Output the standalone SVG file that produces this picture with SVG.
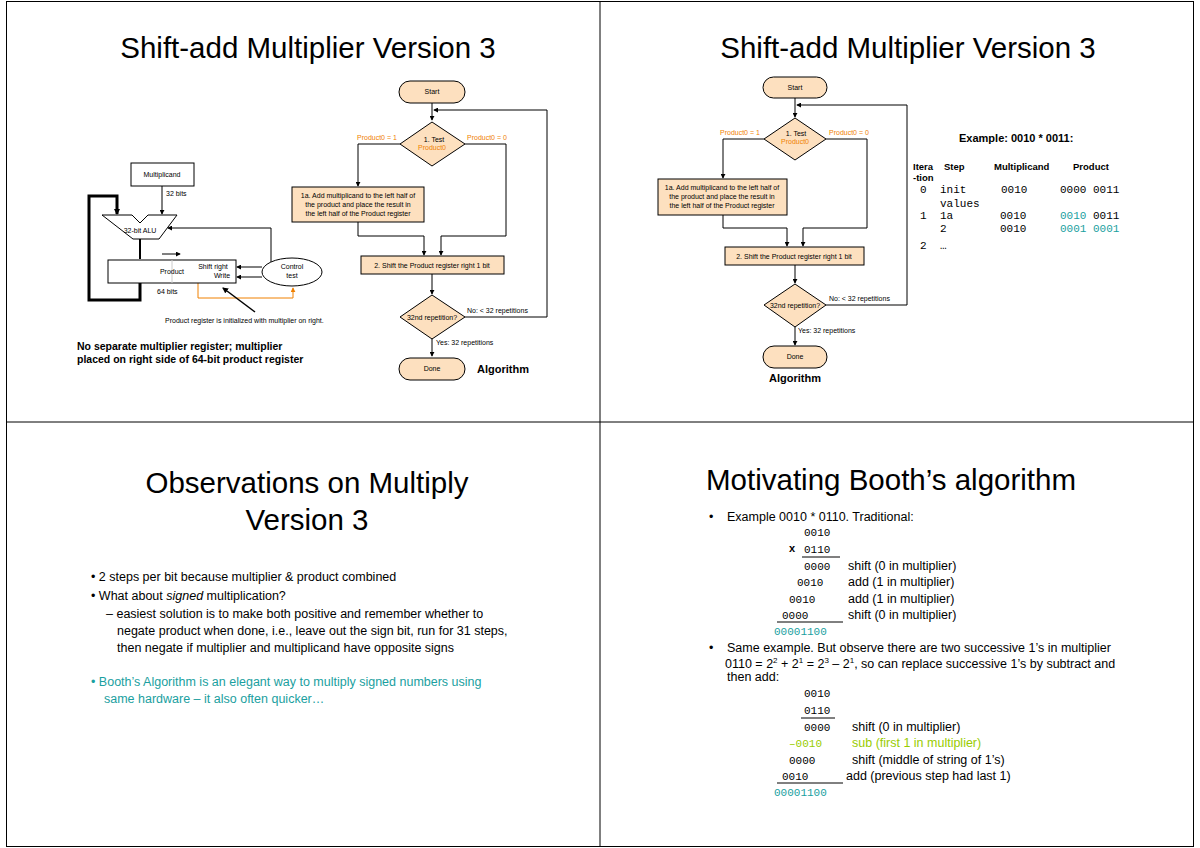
<svg xmlns="http://www.w3.org/2000/svg" width="1200" height="848" viewBox="0 0 1200 848">
<defs>
<marker id="ah" viewBox="0 0 6 6" refX="5" refY="3" markerWidth="5" markerHeight="5" orient="auto"><path d="M0,0L6,3L0,6z" fill="#000"/></marker>
<marker id="ahu" viewBox="0 0 6 6" refX="5" refY="3" markerWidth="6" markerHeight="6" markerUnits="userSpaceOnUse" orient="auto"><path d="M0,0L6,3L0,6z" fill="#000"/></marker>
<marker id="ao" viewBox="0 0 6 6" refX="5" refY="3" markerWidth="5" markerHeight="5" orient="auto"><path d="M0,0L6,3L0,6z" fill="#f08000"/></marker>
</defs>
<style>
text{font-family:"Liberation Sans",Arial,sans-serif;fill:#000}
.t{font-size:29.5px}
.s{font-size:7px}
.sc{font-size:7px;text-anchor:middle}
.o{fill:#f08000}
.f{fill:#fde0bf;stroke:#000;stroke-width:1}
.b{font-weight:bold}
.m{font-family:"Liberation Mono","Courier New",monospace;font-size:11px}
.tl{fill:#1aa0a0}
.g{fill:#99cc00}
.n{font-size:12.5px}
.c{fill:none;stroke:#000;stroke-width:1}
</style>
<rect x="6.5" y="1.5" width="1187" height="845" fill="#fff" stroke="#000"/>
<line x1="600" y1="1.5" x2="600" y2="846.5" stroke="#000"/>
<line x1="6.5" y1="422" x2="1193.5" y2="422" stroke="#000"/>

<text class="t" x="308" y="58" text-anchor="middle">Shift-add Multiplier Version 3</text>
<text class="t" x="908" y="58" text-anchor="middle">Shift-add Multiplier Version 3</text>
<text class="t" x="307" y="493" text-anchor="middle">Observations on Multiply</text>
<text class="t" x="307" y="530" text-anchor="middle">Version 3</text>
<text class="t" x="706" y="490">Motivating Booth’s algorithm</text>

<g id="connectors">
<path class="c" d="M432,103V120" marker-end="url(#ah)"/>
<path class="c" d="M465,317H547V110H434" marker-end="url(#ah)"/>
<path class="c" d="M400,144H358V186" marker-end="url(#ah)"/>
<path class="c" d="M465,144H506V236H441V255" marker-end="url(#ah)"/>
<path class="c" d="M358,222V236H424V255" marker-end="url(#ah)"/>
<path class="c" d="M432,274V294" marker-end="url(#ah)"/>
<path class="c" d="M432,338V356" marker-end="url(#ah)"/>
<path class="c" d="M162,186V214" marker-end="url(#ah)"/>
<path d="M140,283V300H89V196H117V214" fill="none" stroke="#000" stroke-width="3" marker-end="url(#ahu)"/>
<path d="M140,239V259" fill="none" stroke="#000" stroke-width="2"/>
<path class="c" d="M271,262V228H168" marker-end="url(#ah)"/>
<path class="c" d="M262,267H237" marker-end="url(#ah)"/>
<path class="c" d="M262,277H237" marker-end="url(#ah)"/>
<path d="M198,283V298H293V288" fill="none" stroke="#f08000" stroke-width="1" marker-end="url(#ao)"/>
<path d="M255,312L223,288" fill="none" stroke="#000" stroke-width="1.5" marker-end="url(#ahu)"/>
<path class="c" d="M162,254H180" marker-end="url(#ah)"/>

<path class="c" d="M795,98V117" marker-end="url(#ah)"/>
<path class="c" d="M826,305H907V105H797" marker-end="url(#ah)"/>
<path class="c" d="M764,139H723V178" marker-end="url(#ah)"/>
<path class="c" d="M826,139H867V228H803V246" marker-end="url(#ah)"/>
<path class="c" d="M723,215V228H787V246" marker-end="url(#ah)"/>
<path class="c" d="M795,265V283" marker-end="url(#ah)"/>
<path class="c" d="M795,327V345" marker-end="url(#ah)"/>
</g>

<g id="start1"><rect class="f" x="399" y="81" width="66" height="22" rx="11"/><text class="sc" x="432" y="94">Start</text></g>
<g id="test1"><path class="f" d="M432,122L465,144L432,166L400,144z"/><text class="sc" x="434" y="142">1. Test</text><text class="sc o" x="432" y="150">Product0</text>
<text class="s o" x="357" y="140">Product0 = 1</text><text class="s o" x="467" y="140">Product0 = 0</text></g>
<g id="step1a"><rect class="f" x="292" y="187" width="132" height="35"/><text class="sc" x="358" y="198">1a. Add multiplicand to the left half of</text><text class="sc" x="358" y="207">the product and place the result in</text><text class="sc" x="358" y="216">the left half of the Product register</text></g>
<g id="step2"><rect class="f" x="361" y="256" width="143" height="18"/><text class="sc" x="432" y="268">2. Shift the Product register right 1 bit</text></g>
<g id="rep1"><path class="f" d="M432,295L465,317L432,339L400,317z"/><text class="sc" x="432" y="320">32nd repetition?</text>
<text class="s" x="467" y="313">No: &lt; 32 repetitions</text><text class="s" x="436" y="345">Yes: 32 repetitions</text></g>
<g id="done1"><rect class="f" x="399" y="358" width="66" height="22" rx="11"/><text class="sc" x="432" y="371">Done</text></g>
<text class="b" x="477" y="373" font-size="11">Algorithm</text>

<g id="multiplicand"><rect x="131" y="163" width="63" height="23" fill="#fff" stroke="#000"/><text class="sc" x="162" y="177">Multiplicand</text><text class="s" x="166" y="196">32 bits</text></g>
<g id="alu"><path d="M102,215H132L140,223L148,215H177L159,239H133z" fill="#fff" stroke="#000"/><text class="sc" x="140" y="233">32-bit ALU</text></g>
<g id="product"><rect x="108" y="260" width="128" height="23" fill="#fff" stroke="#000"/><line x1="172" y1="260" x2="172" y2="283" stroke="#ccc"/><text class="sc" x="172" y="274">Product</text><text class="sc" x="213" y="269">Shift right</text><text class="sc" x="222" y="278">Write</text><text class="s" x="157" y="294">64 bits</text></g>
<g id="control"><ellipse cx="292" cy="272" rx="30" ry="14" fill="#fff" stroke="#000"/><text class="sc" x="292" y="269">Control</text><text class="sc" x="292" y="278">test</text></g>
<text class="s" x="165" y="323">Product register is initialized with multiplier on right.</text>
<text class="b" x="77" y="350" font-size="10.5">No separate multiplier register; multiplier</text>
<text class="b" x="77" y="363" font-size="10.5">placed on right side of 64-bit product register</text>

<g id="start2"><rect class="f" x="763" y="77" width="64" height="21" rx="10.5"/><text class="sc" x="795" y="90">Start</text></g>
<g id="test2"><path class="f" d="M795,118L826,139L795,160L764,139z"/><text class="sc" x="796" y="136">1. Test</text><text class="sc o" x="795" y="144">Product0</text>
<text class="s o" x="720" y="135">Product0 = 1</text><text class="s o" x="829" y="135">Product0 = 0</text></g>
<g id="step1a2"><rect class="f" x="658" y="179" width="129" height="36"/><text class="sc" x="722" y="190">1a. Add multiplicand to the left half of</text><text class="sc" x="722" y="199">the product and place the result in</text><text class="sc" x="722" y="208">the left half of the Product register</text></g>
<g id="step22"><rect class="f" x="725" y="247" width="139" height="18"/><text class="sc" x="794" y="259">2. Shift the Product register right 1 bit</text></g>
<g id="rep2"><path class="f" d="M795,284L826,305L795,327L764,305z"/><text class="sc" x="795" y="308">32nd repetition?</text>
<text class="s" x="829" y="301">No: &lt; 32 repetitions</text><text class="s" x="798" y="333">Yes: 32 repetitions</text></g>
<g id="done2"><rect class="f" x="763" y="346" width="64" height="22" rx="11"/><text class="sc" x="795" y="359">Done</text></g>
<text class="b" x="795" y="382" font-size="11" text-anchor="middle">Algorithm</text>

<g id="table">
<text class="b" x="959" y="142" font-size="11">Example: 0010 * 0011:</text>
<text class="b" x="913" y="170" font-size="9.5">Itera</text><text class="b" x="913" y="181" font-size="9.5">-tion</text>
<text class="b" x="944" y="170" font-size="9.5">Step</text><text class="b" x="994" y="170" font-size="9.5">Multiplicand</text><text class="b" x="1073" y="170" font-size="9.5">Product</text>
<text class="m" x="920" y="193" font-size="10">0</text><text class="m" x="940" y="193" font-size="10">init</text><text class="m" x="1001" y="193" font-size="10">0010</text><text class="m" x="1060" y="193" font-size="10">0000 0011</text>
<text class="m" x="940" y="207" font-size="10">values</text>
<text class="m" x="920" y="219" font-size="10">1</text><text class="m" x="940" y="219" font-size="10">1a</text><text class="m" x="1000" y="219" font-size="10">0010</text><text class="m tl" x="1060" y="219" font-size="10">0010</text><text class="m" x="1093" y="219" font-size="10">0011</text>
<text class="m" x="940" y="232" font-size="10">2</text><text class="m" x="1000" y="232" font-size="10">0010</text><text class="m tl" x="1060" y="232" font-size="10">0001 0001</text>
<text class="m" x="920" y="249" font-size="10">2</text><text class="m" x="940" y="249" font-size="10">…</text>
</g>

<g id="obs">
<text class="n" x="91" y="581">•  2 steps per bit because multiplier &amp; product combined</text>
<text class="n" x="91" y="600">•  What about <tspan font-style="italic">signed</tspan> multiplication?</text>
<text class="n" x="106" y="618">– easiest solution is to make both positive and remember whether to</text>
<text class="n" x="117" y="635">negate product when done, i.e., leave out the sign bit, run for 31 steps,</text>
<text class="n" x="117" y="652">then negate if multiplier and multiplicand have opposite signs</text>
<text class="n tl" x="91" y="686">•  Booth’s Algorithm is an elegant way to multiply signed numbers using</text>
<text class="n tl" x="104" y="703">same hardware – it also often quicker…</text>
</g>

<g id="booth">
<text class="n" x="709" y="521">•</text><text class="n" x="727" y="521">Example 0010 * 0110. Traditional:</text>
<text class="m" x="804" y="536">0010</text>
<text class="b" x="789" y="552" font-size="11">x</text><text class="m" x="804" y="553">0110</text>
<line x1="802" y1="557" x2="840" y2="557" stroke="#000"/>
<text class="m" x="804" y="570">0000</text><text class="n" x="848" y="570">shift (0 in multiplier)</text>
<text class="m" x="797" y="586">0010</text><text class="n" x="848" y="586">add (1 in multiplier)</text>
<text class="m" x="789" y="603">0010</text><text class="n" x="848" y="603">add (1 in multiplier)</text>
<text class="m" x="782" y="619">0000</text><text class="n" x="848" y="619">shift (0 in multiplier)</text>
<line x1="777" y1="622" x2="843" y2="622" stroke="#000"/>
<text class="m tl" x="774" y="635">00001100</text>
<text class="n" x="709" y="652">•</text><text class="n" x="727" y="652">Same example. But observe there are two successive 1’s in multiplier</text>
<text class="n" x="725" y="668">0110 = 2<tspan font-size="8" dy="-5">2</tspan><tspan dy="5"> + 2</tspan><tspan font-size="8" dy="-5">1</tspan><tspan dy="5"> = 2</tspan><tspan font-size="8" dy="-5">3</tspan><tspan dy="5"> – 2</tspan><tspan font-size="8" dy="-5">1</tspan><tspan dy="5">, so can replace successive 1’s by subtract and</tspan></text>
<text class="n" x="727" y="681">then add:</text>
<text class="m" x="804" y="697">0010</text>
<text class="m" x="804" y="714">0110</text>
<line x1="801" y1="718" x2="835" y2="718" stroke="#000"/>
<text class="m" x="804" y="731">0000</text><text class="n" x="852" y="731">shift (0 in multiplier)</text>
<text class="m g" x="789" y="747">–0010</text><text class="n g" x="852" y="747">sub  (first 1 in multiplier)</text>
<text class="m" x="789" y="764">0000</text><text class="n" x="852" y="764">shift (middle of string of 1’s)</text>
<text class="m" x="782" y="780">0010</text><text class="n" x="846" y="780">add (previous step had last 1)</text>
<line x1="777" y1="783" x2="843" y2="783" stroke="#000"/>
<text class="m tl" x="774" y="796">00001100</text>
</g>
</svg>
